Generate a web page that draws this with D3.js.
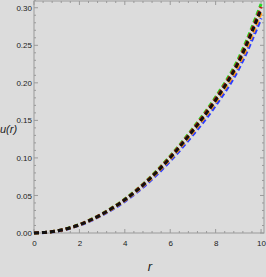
<!DOCTYPE html>
<html>
<head>
<meta charset="utf-8">
<script src="https://cdn.jsdelivr.net/npm/d3@7"></script>
<style>
  body { margin: 0; background: #dcdcdc; }
  svg { display: block; }
  .tick text { font-family: "Liberation Sans Narrow", "Liberation Sans", sans-serif; font-size: 8px; fill: #222; }
</style>
</head>
<body>
<script>
const width = 266
const height = 277
const margin = { top: 1, right: 2, bottom: 44, left: 34 }

const rValues = [0, 1, 2, 3, 4, 5, 6, 7, 8, 9, 10]
const uGreen = [0, 0.0028, 0.0113, 0.0257, 0.0452, 0.0707, 0.1025, 0.1395, 0.181, 0.232, 0.305]
const uRed = [0, 0.0027, 0.0111, 0.0254, 0.0447, 0.0700, 0.1015, 0.1380, 0.179, 0.229, 0.301]
const uBlack = [0, 0.0027, 0.0110, 0.0251, 0.0442, 0.0692, 0.1003, 0.1365, 0.177, 0.227, 0.298]
const uOrange = [0, 0.0026, 0.0108, 0.0247, 0.0435, 0.0682, 0.0988, 0.1345, 0.1745, 0.223, 0.293]
const uBlue = [0, 0.0025, 0.0105, 0.0240, 0.0424, 0.0664, 0.0962, 0.1310, 0.170, 0.218, 0.286]
const xTicks = [0, 2, 4, 6, 8, 10]
const yTicks = [0.00, 0.05, 0.10, 0.15, 0.20, 0.25, 0.30]

const series = [
  { color: '#2a3cff', values: uBlue },
  { color: '#ff9a1a', values: uOrange },
  { color: '#22dd22', values: uGreen },
  { color: '#cc1111', values: uRed },
  { color: '#111111', values: uBlack }
]

const svg = d3.select('body').append('svg')
  .attr('width', width)
  .attr('height', height)

const x = d3.scaleLinear().domain([0, 10.13]).range([margin.left, width - margin.right])
const y = d3.scaleLinear().domain([0, 0.309]).range([height - margin.bottom, margin.top])

const frame = '#9a9a9a'
const xMinor = d3.range(0, 10.01, 0.4)
const yMinor = d3.range(0, 0.3101, 0.01)

// minor ticks on all four sides, pointing inward
const g = svg.append('g')
g.selectAll('.xm').data(xMinor).enter().append('line')
  .attr('x1', d => x(d)).attr('x2', d => x(d))
  .attr('y1', y(0)).attr('y2', d => y(0) - (xTicks.includes(+d.toFixed(1)) ? 4 : 2))
  .attr('stroke', frame)
g.selectAll('.xt').data(xMinor).enter().append('line')
  .attr('x1', d => x(d)).attr('x2', d => x(d))
  .attr('y1', margin.top).attr('y2', d => margin.top + (xTicks.includes(+d.toFixed(1)) ? 4 : 2))
  .attr('stroke', frame)
g.selectAll('.ym').data(yMinor).enter().append('line')
  .attr('y1', d => y(d)).attr('y2', d => y(d))
  .attr('x1', x(0)).attr('x2', (d, i) => x(0) + (i % 5 === 0 ? 4 : 2))
  .attr('stroke', frame)
g.selectAll('.yr').data(yMinor).enter().append('line')
  .attr('y1', d => y(d)).attr('y2', d => y(d))
  .attr('x1', width - margin.right).attr('x2', (d, i) => width - margin.right - (i % 5 === 0 ? 4 : 2))
  .attr('stroke', frame)

svg.append('rect')
  .attr('x', x(0)).attr('y', margin.top)
  .attr('width', width - margin.right - x(0))
  .attr('height', y(0) - margin.top)
  .attr('fill', 'none')
  .attr('stroke', frame)

const xAxis = svg.append('g')
  .attr('transform', `translate(0,${y(0)})`)
  .call(d3.axisBottom(x).tickValues(xTicks).tickSize(0).tickPadding(7).tickFormat(d3.format('d')))
xAxis.select('.domain').remove()

const yAxis = svg.append('g')
  .attr('transform', `translate(${x(0)},0)`)
  .call(d3.axisLeft(y).tickValues(yTicks).tickSize(0).tickPadding(2).tickFormat(d3.format('.2f')))
yAxis.select('.domain').remove()

const line = d3.line()
  .x((d, i) => x(rValues[i]))
  .y(d => y(d))
  .curve(d3.curveMonotoneX)

svg.append('g').selectAll('path').data(series).enter().append('path')
  .attr('d', d => line(d.values))
  .attr('fill', 'none')
  .attr('stroke', d => d.color)
  .attr('stroke-width', 3)
  .attr('stroke-dasharray', '5,3')

svg.append('text')
  .attr('x', 0).attr('y', 133)
  .attr('text-anchor', 'start')
  .style('font-family', '"Liberation Sans Narrow", "Liberation Sans", sans-serif')
  .style('font-style', 'italic')
  .style('font-size', '11px')
  .attr('fill', '#222')
  .text('u(r)')

svg.append('text')
  .attr('x', 150).attr('y', 271)
  .attr('text-anchor', 'middle')
  .style('font-family', '"Liberation Sans", sans-serif')
  .style('font-style', 'italic')
  .style('font-size', '13px')
  .attr('fill', '#222')
  .text('r')
</script>
</body>
</html>
